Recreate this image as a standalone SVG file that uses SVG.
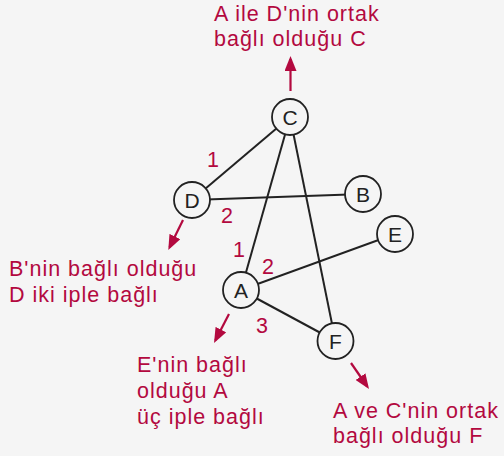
<svg xmlns="http://www.w3.org/2000/svg" width="504" height="456" viewBox="0 0 504 456">
<defs>
<style>
.bg{fill:#f5f5f5}
.edge{stroke:#222;stroke-width:2;fill:none}
.node circle{fill:#f5f5f5;stroke:#222;stroke-width:1.8}
.node text{font-family:"Liberation Sans",Arial,sans-serif;font-size:21px;fill:#222;text-anchor:middle}
.lbl{font-family:"Liberation Sans",Arial,sans-serif;font-size:21.5px;fill:#b3093f;letter-spacing:1px}
.num{font-family:"Liberation Sans",Arial,sans-serif;font-size:21.5px;fill:#b3093f;text-anchor:middle}
.arr{stroke:#b3093f;stroke-width:2.2;fill:none;marker-end:url(#ah)}
</style>
<marker id="ah" viewBox="0 0 15 12" refX="12" refY="6" markerWidth="15" markerHeight="12" orient="auto" markerUnits="userSpaceOnUse">
<path d="M0,0 L15,6 L0,12 Z" fill="#b3093f"/>
</marker>
</defs>
<rect class="bg" x="0" y="0" width="504" height="456"/>
<g id="connectors">
<line class="edge" x1="192" y1="200" x2="290" y2="117"/>
<line class="edge" x1="192" y1="200" x2="363" y2="194"/>
<line class="edge" x1="290" y1="117" x2="241" y2="290"/>
<line class="edge" x1="290" y1="117" x2="335.5" y2="341"/>
<line class="edge" x1="241" y1="290" x2="395" y2="234"/>
<line class="edge" x1="241" y1="290" x2="335.5" y2="341"/>
<line class="arr" x1="290.5" y1="91" x2="290.5" y2="59"/>
<line class="arr" x1="183" y1="220" x2="169.6" y2="247.3"/>
<line class="arr" x1="229" y1="314" x2="215.4" y2="340.3"/>
<line class="arr" x1="351" y1="363" x2="367.3" y2="386.5"/>
</g>
<g id="node-C" class="node"><circle cx="290" cy="117" r="18"/><text x="290" y="124.5">C</text></g>
<g id="node-D" class="node"><circle cx="192" cy="200" r="18"/><text x="192" y="207.5">D</text></g>
<g id="node-B" class="node"><circle cx="363" cy="194" r="18"/><text x="363" y="201.5">B</text></g>
<g id="node-E" class="node"><circle cx="395" cy="234" r="18"/><text x="395" y="241.5">E</text></g>
<g id="node-A" class="node"><circle cx="241" cy="290" r="18"/><text x="241" y="297.5">A</text></g>
<g id="node-F" class="node"><circle cx="335.5" cy="341" r="18"/><text x="335.5" y="348.5">F</text></g>
<g id="edge-labels">
<text class="num" x="213" y="167">1</text>
<text class="num" x="227" y="223">2</text>
<text class="num" x="239" y="257">1</text>
<text class="num" x="268" y="274">2</text>
<text class="num" x="262" y="333">3</text>
</g>
<g id="annotations">
<text class="lbl" x="214" y="21">A ile D'nin ortak</text>
<text class="lbl" x="214" y="46">bağlı olduğu C</text>
<text class="lbl" x="9" y="276">B'nin bağlı olduğu</text>
<text class="lbl" x="9" y="302">D iki iple bağlı</text>
<text class="lbl" x="137" y="372">E'nin bağlı</text>
<text class="lbl" x="137" y="398">olduğu A</text>
<text class="lbl" x="137" y="424">üç iple bağlı</text>
<text class="lbl" x="333" y="418">A ve C'nin ortak</text>
<text class="lbl" x="333" y="443">bağlı olduğu F</text>
</g>
</svg>
